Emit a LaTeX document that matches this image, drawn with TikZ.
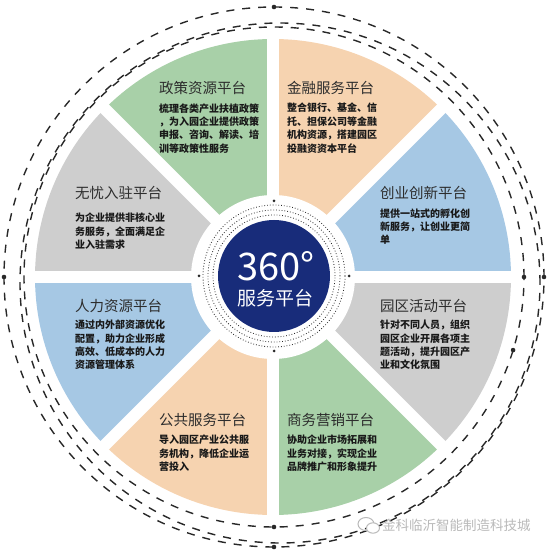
\documentclass[tikz,border=0pt]{standalone}
\usepackage{fontspec}
\setmainfont{Noto Sans CJK SC}
\definecolor{cgreen}{RGB}{168,208,168}
\definecolor{cpeach}{RGB}{246,211,176}
\definecolor{cblue}{RGB}{166,200,228}
\definecolor{cgray}{RGB}{206,206,206}
\definecolor{cnavy}{RGB}{24,44,122}
\definecolor{ttlcol}{RGB}{45,45,45}
\definecolor{dsccol}{RGB}{25,25,25}
\definecolor{ringcol}{RGB}{40,40,40}
\definecolor{wmcol}{RGB}{185,185,185}
\begin{document}
\begin{tikzpicture}[x=1pt,y=1pt,
  ttl/.style={anchor=base west, inner sep=0pt, font=\fontsize{14.5}{17}\selectfont, text=ttlcol},
  dsc/.style={anchor=base west, inner sep=0pt, align=left, text width=112pt, font=\fontsize{10}{13.4}\selectfont\bfseries, text=dsccol},
  outring/.style={draw=ringcol, line width=1.4pt, dash pattern=on 8pt off 8pt},
  dotring/.style={draw=ringcol, line width=0.8pt, dash pattern=on 0.8pt off 2pt},
  bigdot/.style={fill=ringcol},
]
\useasboundingbox (0,0) rectangle (550,550);
\coordinate (C) at (273,273);
% sectors
\begin{scope}[shift={(C)}]
  \foreach \a/\c in {0/cblue,45/cpeach,90/cgreen,135/cgray,180/cblue,225/cpeach,270/cgreen,315/cgray}
    \fill[\c] (0,0) -- (\a:238) arc[start angle=\a, end angle=\a+45, radius=238] -- cycle;
  \foreach \a in {0,45,90,135}
    \draw[white, line width=12pt] (\a:240) -- (\a+180:240);
  \fill[white] (0,0) circle[radius=82];
\end{scope}
% inner dotted rings
\begin{scope}[shift={(274,274)}]
  \draw[dotring] (0,0) circle[radius=61];
  \draw[dotring] (0,0) circle[radius=66];
  \draw[dotring] (0,0) circle[radius=71];
  \foreach \a in {0,90,180,270}
    \fill[bigdot] (\a:75) circle[radius=1.5];
  \fill[cnavy] (0,0) circle[radius=56];
\end{scope}
% outer dashed rings
\begin{scope}[shift={(274,273)}]
  \draw[outring] (0,0) circle[radius=250];
  \draw[outring] (0,0) circle[radius=270];
  \draw[outring] (6,-6) circle[radius=260];
  \foreach \a in {0,90,180,270}
    \fill[bigdot] (\a:270) circle[radius=2.3];
  \foreach \a in {0,-17,270}
    \fill[bigdot] (\a:250) circle[radius=2.3];
\end{scope}
% center text
\node[font=\fontsize{38}{40}\selectfont, text=white, inner sep=0pt] (n360) at (276,284) {360°};
\node[font=\fontsize{19}{21}\selectfont, text=white, inner sep=0pt] (nfw) at (275,251.5) {服务平台};
% sector texts
\node[ttl] (t1) at (159,456) {政策资源平台};
\node[dsc] (d1) at (159,437.9) {梳理各类产业扶植政策\\，为入园企业提供政策\\申报、咨询、解读、培\\训等政策性服务};
\node[ttl] (t2) at (75,351.2) {无忧入驻平台};
\node[dsc] (d2) at (75,328.2) {为企业提供非核心业\\务服务，全面满足企\\业入驻需求};
\node[ttl] (t3) at (287,456) {金融服务平台};
\node[dsc] (d3) at (287,438) {整合银行、基金、信\\托、担保公司等金融\\机构资源，搭建园区\\投融资资本平台};
\node[ttl] (t4) at (380,351.2) {创业创新平台};
\node[dsc] (d4) at (380,332.9) {提供一站式的孵化创\\新服务，让创业更简\\单};
\node[ttl] (t5) at (75,238.5) {人力资源平台};
\node[dsc] (d5) at (75,221.2) {通过内外部资源优化\\配置，助力企业形成\\高效、低成本的人力\\资源管理体系};
\node[ttl] (t6) at (159,124.5) {公共服务平台};
\node[dsc] (d6) at (159,106.2) {导入园区产业公共服\\务机构，降低企业运\\营投入};
\node[ttl] (t7) at (380,238.5) {园区活动平台};
\node[dsc] (d7) at (380,221.2) {针对不同人员，组织\\园区企业开展各项主\\题活动，提升园区产\\业和文化氛围};
\node[ttl] (t8) at (287,124.5) {商务营销平台};
\node[dsc] (d8) at (287,106.2) {协助企业市场拓展和\\业务对接，实现企业\\品牌推广和形象提升};
% watermark
\draw[wmcol, line width=1pt] (366,26) ellipse[x radius=8, y radius=6.5];
\draw[wmcol, line width=1pt, fill=white] (373,22) ellipse[x radius=6.5, y radius=5.2];
\node[anchor=west, inner sep=0pt, font=\fontsize{13.5}{15}\selectfont, text=wmcol] (wm) at (382,25) {金科临沂智能制造科技城};
\end{tikzpicture}
\end{document}
